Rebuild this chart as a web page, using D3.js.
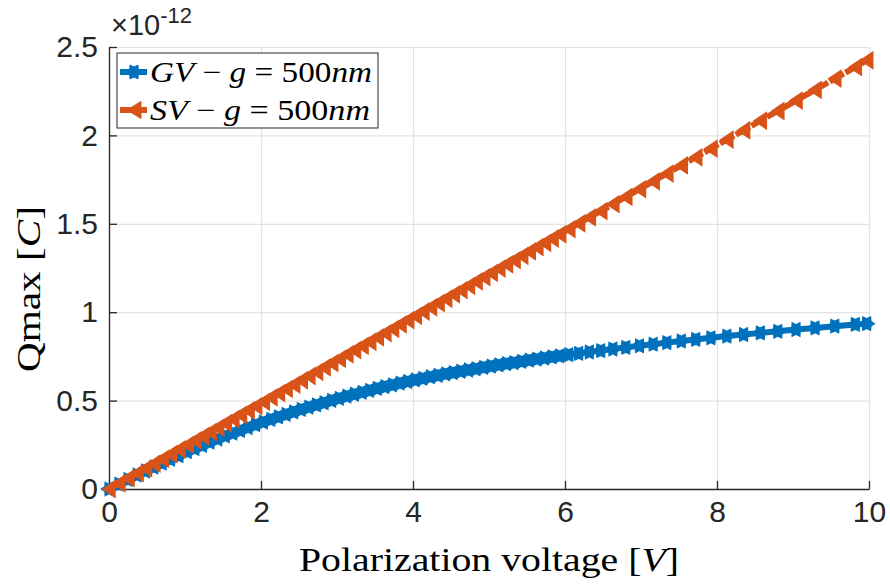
<!DOCTYPE html>
<html>
<head>
<meta charset="utf-8">
<script src="https://cdn.jsdelivr.net/npm/d3@7"></script>
<style>
  body { margin: 0; background: #fff; }
  .tick text { font-family: "Liberation Sans", Arial, sans-serif; fill: #262626; }
  .serif { font-family: "Liberation Serif", "DejaVu Serif", serif; fill: #000; }
</style>
</head>
<body>
<div id="chart"></div>
<script>
// Polarization voltage [V] (shared by both series)
const voltage = [0, 0.13, 0.25, 0.37, 0.48, 0.59, 0.70, 0.81, 0.92, 1.03, 1.13, 1.23,
  1.33, 1.43, 1.53, 1.63, 1.73, 1.83, 1.93, 2.03, 2.13, 2.23, 2.33, 2.43, 2.53, 2.63,
  2.73, 2.83, 2.93, 3.03, 3.13, 3.23, 3.33, 3.43, 3.53, 3.63, 3.73, 3.83, 3.93, 4.03,
  4.13, 4.23, 4.33, 4.43, 4.53, 4.63, 4.73, 4.83, 4.93, 5.03, 5.13, 5.23, 5.33, 5.43,
  5.53, 5.63, 5.73, 5.83, 5.93, 6.05, 6.18, 6.32, 6.47, 6.63, 6.80, 6.98, 7.16, 7.34,
  7.53, 7.72, 7.92, 8.13, 8.35, 8.57, 8.80, 9.04, 9.29, 9.55, 9.82, 9.97];

// Qmax in units of 1e-12 C
const qmaxGV = [0, 0.028, 0.054, 0.079, 0.102, 0.124, 0.146, 0.168, 0.189, 0.211, 0.229, 0.247,
  0.265, 0.283, 0.300, 0.316, 0.332, 0.348, 0.364, 0.379, 0.394, 0.408, 0.422, 0.436, 0.450, 0.463,
  0.476, 0.488, 0.501, 0.513, 0.525, 0.536, 0.547, 0.558, 0.569, 0.579, 0.589, 0.599, 0.608, 0.617,
  0.626, 0.635, 0.643, 0.651, 0.658, 0.666, 0.673, 0.680, 0.688, 0.695, 0.702, 0.709, 0.715, 0.722,
  0.729, 0.735, 0.741, 0.747, 0.753, 0.760, 0.767, 0.775, 0.783, 0.792, 0.801, 0.810, 0.819, 0.828,
  0.837, 0.846, 0.855, 0.865, 0.874, 0.883, 0.892, 0.902, 0.911, 0.921, 0.931, 0.935];

const qmaxSV = [0, 0.032, 0.061, 0.090, 0.117, 0.143, 0.170, 0.197, 0.224, 0.250, 0.275, 0.299,
  0.323, 0.347, 0.372, 0.396, 0.420, 0.445, 0.469, 0.493, 0.518, 0.542, 0.566, 0.590, 0.615, 0.639,
  0.663, 0.688, 0.712, 0.736, 0.761, 0.785, 0.809, 0.833, 0.858, 0.882, 0.906, 0.931, 0.955, 0.979,
  1.004, 1.028, 1.052, 1.076, 1.101, 1.125, 1.149, 1.174, 1.198, 1.222, 1.247, 1.271, 1.295, 1.319,
  1.344, 1.368, 1.392, 1.417, 1.441, 1.470, 1.502, 1.536, 1.572, 1.611, 1.652, 1.696, 1.740, 1.784,
  1.830, 1.876, 1.925, 1.976, 2.029, 2.083, 2.138, 2.197, 2.257, 2.321, 2.386, 2.425];

const xTicks = [0, 2, 4, 6, 8, 10];
const yTicks = [0, 0.5, 1, 1.5, 2, 2.5];

const config = {
  width: 890, height: 587,
  margin: { top: 47, right: 21, bottom: 98, left: 109 },
  blue: '#0072BD', orange: '#D95319'
};

const innerW = config.width - config.margin.left - config.margin.right;
const innerH = config.height - config.margin.top - config.margin.bottom;

const svg = d3.select('#chart').append('svg')
  .attr('width', config.width)
  .attr('height', config.height);

const chart = svg.append('g')
  .attr('transform', `translate(${config.margin.left},${config.margin.top})`);

const xScale = d3.scaleLinear().domain([0, 10]).range([0, innerW]);
const yScale = d3.scaleLinear().domain([0, 2.5]).range([innerH, 0]);

// gridlines
chart.append('g')
  .attr('transform', `translate(0,${innerH})`)
  .call(d3.axisBottom(xScale).tickValues(xTicks).tickSize(-innerH).tickFormat(''))
  .call(g => g.select('.domain').remove())
  .call(g => g.selectAll('line').attr('stroke', '#e3e3e3').attr('stroke-width', 1.2));

chart.append('g')
  .call(d3.axisLeft(yScale).tickValues(yTicks).tickSize(-innerW).tickFormat(''))
  .call(g => g.select('.domain').remove())
  .call(g => g.selectAll('line').attr('stroke', '#e3e3e3').attr('stroke-width', 1.2));

// axes (ticks point inward)
const xAxisG = chart.append('g')
  .attr('transform', `translate(0,${innerH})`)
  .call(d3.axisBottom(xScale).tickValues(xTicks).tickSize(-8).tickSizeOuter(0).tickPadding(13).tickFormat(d3.format('d')));

const yAxisG = chart.append('g')
  .call(d3.axisLeft(yScale).tickValues(yTicks).tickSize(-8).tickSizeOuter(0).tickPadding(11).tickFormat(d => d));

[xAxisG, yAxisG].forEach(g => {
  g.select('.domain').attr('stroke', '#262626').attr('stroke-width', 1.3);
  g.selectAll('.tick line').attr('stroke', '#262626').attr('stroke-width', 1.3);
  g.selectAll('.tick text').attr('font-size', 30);
});
xAxisG.selectAll('.tick text').attr('dy', '0.68em');

// series
const gv = voltage.map((v, i) => [v, qmaxGV[i]]);
const sv = voltage.map((v, i) => [v, qmaxSV[i]]);

const line = d3.line()
  .x(d => xScale(d[0]))
  .y(d => yScale(d[1]));

function hexagram(r) {
  const pts = [];
  for (let k = 0; k < 12; k++) {
    const a = Math.PI / 6 * k;
    const rr = k % 2 === 0 ? r : r * 0.62;
    pts.push([rr * Math.cos(a), rr * Math.sin(a)]);
  }
  return 'M' + pts.map(p => p.join(',')).join('L') + 'Z';
}
function leftTriangle(w, h) {
  return `M${-w / 2},0L${w / 2},${-h / 2}L${w / 2},${h / 2}Z`;
}

chart.append('path')
  .datum(gv)
  .attr('d', line)
  .attr('fill', 'none')
  .attr('stroke', config.blue)
  .attr('stroke-width', 6)
  .attr('stroke-linejoin', 'round');

chart.selectAll('.gv-marker')
  .data(gv)
  .join('path')
  .attr('class', 'gv-marker')
  .attr('transform', d => `translate(${xScale(d[0])},${yScale(d[1])})`)
  .attr('d', hexagram(7.5))
  .attr('fill', config.blue)
  .attr('stroke', config.blue)
  .attr('stroke-width', 1.5);

chart.append('path')
  .datum(sv)
  .attr('d', line)
  .attr('fill', 'none')
  .attr('stroke', config.orange)
  .attr('stroke-width', 6)
  .attr('stroke-dasharray', '16,2');

chart.selectAll('.sv-marker')
  .data(sv)
  .join('path')
  .attr('class', 'sv-marker')
  .attr('transform', d => `translate(${xScale(d[0])},${yScale(d[1])})`)
  .attr('d', leftTriangle(12, 16))
  .attr('fill', config.orange)
  .attr('stroke', config.orange)
  .attr('stroke-width', 1.5);

// exponent label
const expo = svg.append('text')
  .attr('x', 111)
  .attr('y', 35)
  .attr('font-family', '"Liberation Sans", Arial, sans-serif')
  .attr('fill', '#262626');
expo.append('tspan').attr('font-size', 29).text('\u00d710');
expo.append('tspan').attr('font-size', 22).attr('dy', -12).text('-12');

// axis titles
const xTitle = svg.append('text')
  .attr('class', 'serif')
  .attr('x', config.margin.left + innerW / 2)
  .attr('y', 571)
  .attr('text-anchor', 'middle')
  .attr('font-size', 34)
  .attr('textLength', 380)
  .attr('lengthAdjust', 'spacingAndGlyphs');
xTitle.append('tspan').text('Polarization voltage [');
xTitle.append('tspan').attr('font-style', 'italic').text('V');
xTitle.append('tspan').text(']');

const yTitle = svg.append('text')
  .attr('class', 'serif')
  .attr('transform', 'translate(40,289) rotate(-90)')
  .attr('text-anchor', 'middle')
  .attr('font-size', 33)
  .attr('textLength', 166)
  .attr('lengthAdjust', 'spacingAndGlyphs');
yTitle.append('tspan').text('Qmax [');
yTitle.append('tspan').attr('font-style', 'italic').text('C');
yTitle.append('tspan').text(']');

// legend
const legend = svg.append('g');
legend.append('rect')
  .attr('x', 117).attr('y', 53)
  .attr('width', 261).attr('height', 75)
  .attr('fill', '#fff')
  .attr('stroke', '#262626')
  .attr('stroke-width', 1);

const legendItems = [
  { name: 'GV', color: config.blue, y: 72, marker: hexagram(8), len: 222 },
  { name: 'SV', color: config.orange, y: 110, marker: leftTriangle(14, 17), len: 220 }
];

legendItems.forEach(item => {
  legend.append('line')
    .attr('x1', 120).attr('x2', 147)
    .attr('y1', item.y).attr('y2', item.y)
    .attr('stroke', item.color)
    .attr('stroke-width', 6);
  legend.append('path')
    .attr('transform', `translate(134,${item.y})`)
    .attr('d', item.marker)
    .attr('fill', item.color)
    .attr('stroke', item.color);
  const t = legend.append('text')
    .attr('class', 'serif')
    .attr('x', 150)
    .attr('y', item.y + 10)
    .attr('font-size', 29)
    .attr('textLength', item.len)
    .attr('lengthAdjust', 'spacingAndGlyphs');
  t.append('tspan').attr('font-style', 'italic').text(item.name);
  t.append('tspan').text(' \u2212 ');
  t.append('tspan').attr('font-style', 'italic').text('g');
  t.append('tspan').text(' = 500');
  t.append('tspan').attr('font-style', 'italic').text('nm');
});
</script>
</body>
</html>
